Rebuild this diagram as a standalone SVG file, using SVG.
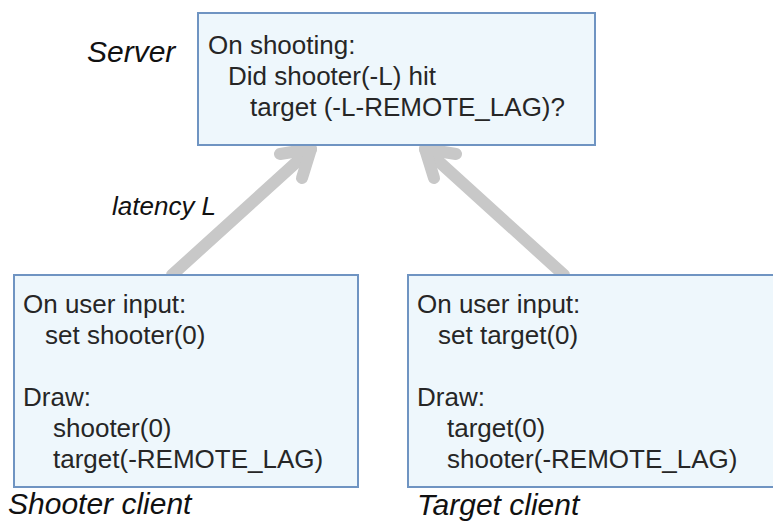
<svg xmlns="http://www.w3.org/2000/svg" width="773" height="525" viewBox="0 0 773 525">
  <defs>
    <style>
      .box { fill: #eef7fc; stroke: #6f94c2; stroke-width: 2; }
      .txt { font-family: "Liberation Sans", Arial, sans-serif; font-size: 26px; fill: #262626; }
      .lbl { font-family: "Liberation Sans", Arial, sans-serif; font-size: 30px; font-style: italic; fill: #111; }
      .edge { stroke: #c8c8c8; stroke-width: 12; fill: none; stroke-linecap: round; stroke-linejoin: round; }
    </style>
  </defs>
  <rect width="773" height="525" fill="#ffffff"/>

  <g id="connectors">
    <!-- shooter client up to server -->
    <path class="edge" d="M172 275 L311 149"/>
    <path class="edge" d="M280 154 L311 149 L302 178"/>
    <!-- target client up to server -->
    <path class="edge" d="M564 275 L425 149"/>
    <path class="edge" d="M456 154 L425 149 L434 178"/>
    <text class="lbl" x="112" y="215" style="font-size:26px">latency L</text>
  </g>

  <g id="server">
    <rect class="box" x="198" y="13" width="397" height="132"/>
    <text class="lbl" x="87" y="62">Server</text>
    <text class="txt" x="208" y="54">On shooting:</text>
    <text class="txt" x="228" y="85">Did shooter(-L) hit</text>
    <text class="txt" x="250" y="116">target (-L-REMOTE_LAG)?</text>
  </g>

  <g id="shooter-client">
    <rect class="box" x="14" y="275" width="344" height="212"/>
    <text class="txt" x="23" y="313">On user input:</text>
    <text class="txt" x="45" y="344">set shooter(0)</text>
    <text class="txt" x="23" y="406">Draw:</text>
    <text class="txt" x="53" y="437">shooter(0)</text>
    <text class="txt" x="53" y="468">target(-REMOTE_LAG)</text>
    <text class="lbl" x="8" y="514">Shooter client</text>
  </g>

  <g id="target-client">
    <!-- box runs past the right edge of the canvas -->
    <rect class="box" x="408" y="275" width="372" height="212"/>
    <text class="txt" x="417" y="313">On user input:</text>
    <text class="txt" x="438" y="344">set target(0)</text>
    <text class="txt" x="417" y="406">Draw:</text>
    <text class="txt" x="447" y="437">target(0)</text>
    <text class="txt" x="447" y="468">shooter(-REMOTE_LAG)</text>
    <text class="lbl" x="417" y="515">Target client</text>
  </g>
</svg>
